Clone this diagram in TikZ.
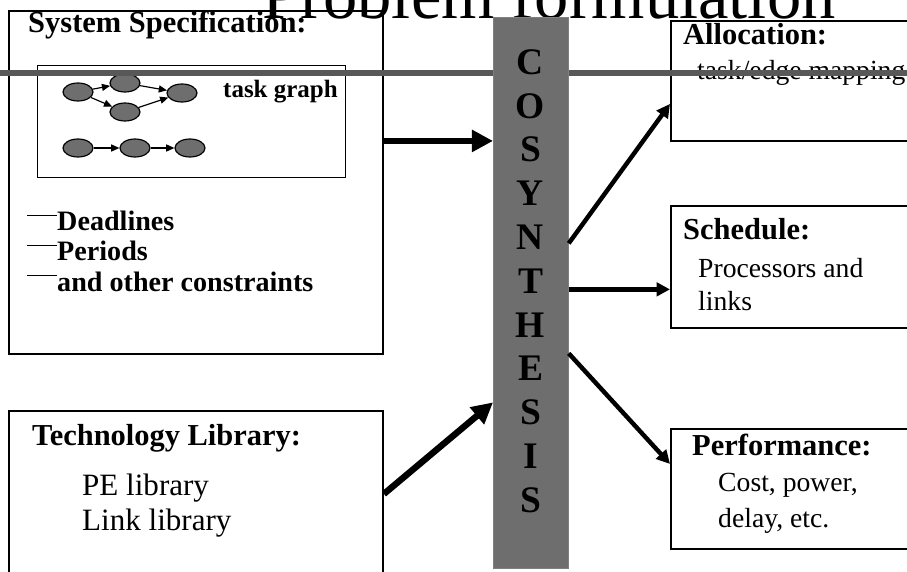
\documentclass[tikz,border=0pt]{standalone}
\usepackage{fontspec}
\setmainfont{Liberation Serif}
\usetikzlibrary{arrows.meta, shapes.geometric}

\definecolor{speckle}{RGB}{110,110,110}
\definecolor{rulegray}{RGB}{88,88,88}

\tikzset{
    box/.style = { draw, line width=1.6pt, rectangle, anchor=north west, inner sep=0pt },
    bar/.style = { draw=gray, line width=0.6pt, fill=speckle, rectangle, anchor=north west, inner sep=0pt },
    letter/.style = { font=\bfseries\fontsize{32}{32}\selectfont, inner sep=0pt },
    title/.style = { anchor=base, inner sep=0pt, font=\fontsize{58.5}{60}\selectfont },
    head/.style = { anchor=base west, inner sep=0pt, font=\bfseries\fontsize{26}{30}\selectfont },
    item/.style = { anchor=base west, inner sep=0pt, font=\bfseries\fontsize{24}{28}\selectfont },
    body/.style = { anchor=base west, inner sep=0pt, font=\fontsize{26.5}{30}\selectfont },
    small/.style = { anchor=base west, inner sep=0pt, font=\fontsize{23.6}{28}\selectfont },
    task/.style = { draw, ellipse, fill=speckle, line width=1pt, minimum width=0.9cm, minimum height=0.54cm, inner sep=0pt },
    edge/.style = { line width=1pt, -{Triangle[length=7pt,width=6pt]} },
    feed/.style = { line width=5.5pt, -{Triangle[length=18pt,width=18pt]} },
    yield/.style = { line width=3.8pt, -{Triangle[length=11.5pt,width=11.5pt]} }
}

\begin{document}
\begin{tikzpicture}[x=0.03cm, y=-0.03cm]
    %%% one unit is one pixel, y grows downwards
    \useasboundingbox (0,0) rectangle (907,572);

    \node[title] (title) at (549,19) {Problem formulation};

    %%%
    %%% Input side
    %%%
    % System specification
    \node[box, minimum width=11.22cm, minimum height=10.29cm] (spec) at (8,10) {};
    \node[head] (spectitle) at (28,33) {System Specification:};
    \node[box, line width=1.2pt, minimum width=9.24cm, minimum height=3.36cm] (graphbox) at (37,65) {};
    \node[item, font=\bfseries\fontsize{21.3}{24}\selectfont] (graphlabel) at (223,98) {task graph};
    % Tasks of the graph
    \foreach \name / \x / \y in {t1/78/92, t2/125/83, t3/125/112, t4/182/93, c1/78/148, c2/135/148, c3/190/148}
      {
        \node[task] (\name) at (\x,\y) {};
      }
    \foreach \from / \to in {t1/t2, t1/t3, t2/t4, t3/t4, c1/c2, c2/c3}
      {
        \draw[edge] (\from) -- (\to);
      }
    % Constraints
    \foreach \y / \text [count=\i] in {231/Deadlines, 261/Periods, 291/and other constraints}
      {
        \node[item] (cons\i) at (57,\y) {\text};
        \draw[line width=0.6pt] (27,\y-16) -- (cons\i.west |- 0,\y-16);
      }

    % Technology library
    \node[box, minimum width=11.22cm, minimum height=5.7cm] (tech) at (8,410) {};
    \node[head] (techtitle) at (32,445) {Technology Library:};
    \node[body] (pelib) at (82,495) {PE library};
    \node[body] (linklib) at (82,530) {Link library};

    %%%
    %%% Output side
    %%%
    \node[box, minimum width=8.7cm, minimum height=3.6cm] (alloc) at (670,20) {};
    \node[head] (alloctitle) at (683,45) {Allocation:};
    \node[small] (mapping) at (697,80) {task/edge mapping};

    \node[box, minimum width=8.7cm, minimum height=3.66cm] (sched) at (670,205) {};
    \node[head] (schedtitle) at (683,240) {Schedule:};
    \node[small] (procs) at (698,278) {Processors and};
    \node[small] (links) at (698,310) {links};

    \node[box, minimum width=8.7cm, minimum height=3.6cm] (perf) at (670,428) {};
    \node[head] (perftitle) at (692,455) {Performance:};
    \node[small] (cost) at (718,491) {Cost, power,};
    \node[small] (delay) at (718,527) {delay, etc.};

    % Rule under the heading
    \draw[rulegray, line width=4.5pt] (0,73) -- (907,73);

    %%%
    %%% Cosynthesis bar
    %%%
    \node[bar, minimum width=2.25cm, minimum height=16.53cm] (bar) at (493,17) {};
    \foreach \letter [count=\i] in {C,O,S,Y,N,T,H,E,S,I,S}
      {
        \node[letter] (s\i) at (530.5,{62+43.8*(\i-1)}) {\letter};
      }

    % Arrows into the bar
    \coordinate (specout) at ([yshift=1.245cm]spec.east);
    \draw[feed] (specout) -- (specout -| bar.west);
    \draw[feed] ([yshift=0.36cm]tech.east) -- ([yshift=-3.285cm]bar.west);
    % Arrows out of the bar
    \draw[yield] ([yshift=1.485cm]bar.east) -- ([yshift=-0.69cm]alloc.west);
    \coordinate (schedout) at ([yshift=0.105cm]bar.east);
    \draw[yield] (schedout) -- (schedout -| sched.west);
    \draw[yield] ([yshift=-1.815cm]bar.east) -- ([yshift=0.75cm]perf.west);
\end{tikzpicture}
\end{document}
